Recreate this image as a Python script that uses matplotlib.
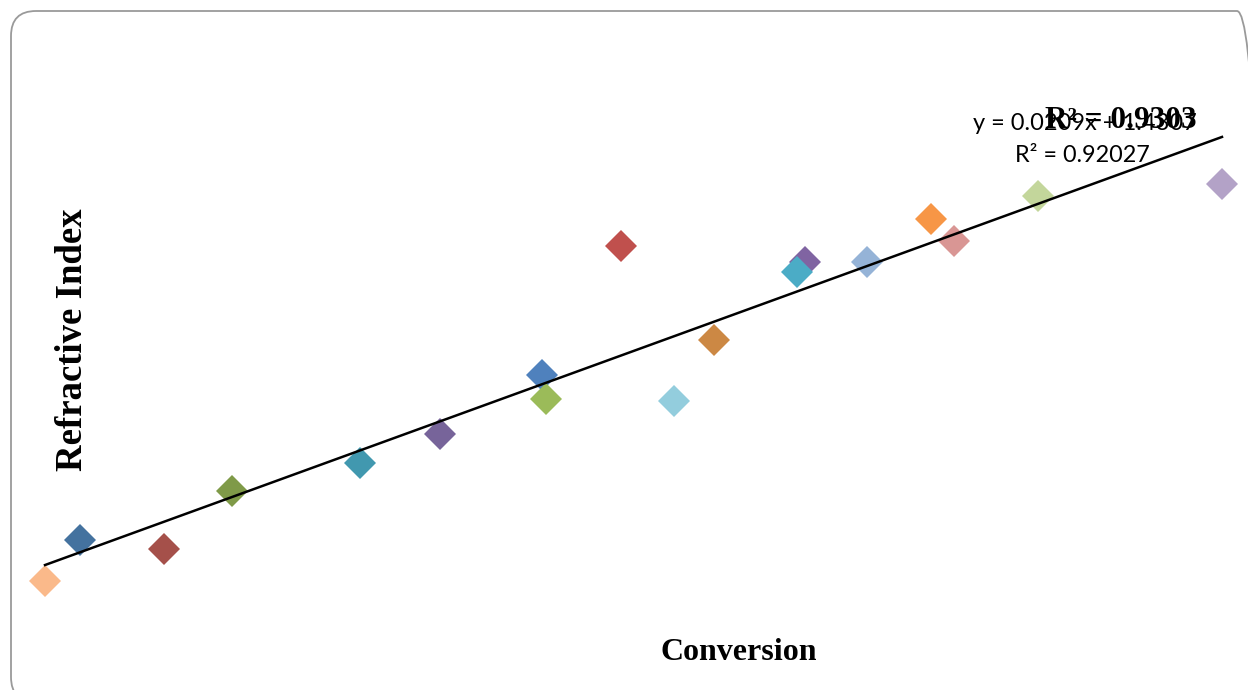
import matplotlib
matplotlib.use("Agg")
import matplotlib.pyplot as plt
from matplotlib.patches import FancyBboxPatch
from matplotlib.transforms import IdentityTransform
import numpy as np

# Conversion (fraction) and measured refractive index for each sample
conversion = [0.000, 0.030, 0.101, 0.159, 0.268, 0.336, 0.422, 0.426, 0.489,
              0.534, 0.568, 0.646, 0.639, 0.698, 0.753, 0.772, 0.844, 1.000]
refractive_index = [1.4299, 1.4319, 1.4315, 1.4343, 1.4357, 1.4371, 1.4400, 1.4388, 1.4463,
                    1.4387, 1.4417, 1.4455, 1.4450, 1.4455, 1.4476, 1.4465, 1.4487, 1.4493]
point_colors = ["#FAB98A", "#44729F", "#A5504A", "#7F9A48", "#4198AF", "#77649A",
                "#4F81BD", "#9BBB59", "#C0504D", "#93CDDD", "#CC8844", "#8064A2",
                "#4BACC6", "#95B3D7", "#F79646", "#D99694", "#C3D69B", "#B3A2C7"]

# Linear trendline coefficients
slope = 0.0209
intercept = 1.4307

W, H = 1248, 690
fig = plt.figure(figsize=(W / 100, H / 100), dpi=100)

# Rounded chart-area border (pixel units so the corners stay circular);
# it runs past the right and bottom edges of the canvas
border = FancyBboxPatch((11, -12), 1262 - 11, H - 11 + 12,
                        boxstyle="round,pad=0,rounding_size=25",
                        transform=IdentityTransform(), facecolor="none",
                        edgecolor="#9A9A9A", linewidth=1.3, zorder=-1)
fig.patches.append(border)

ax = fig.add_axes([45 / W, 1 - 640 / H, 1177 / W, 560 / H])
ax.set_facecolor("none")
ax.set_xlim(0, 1)
ax.set_ylim(1.42704, 1.45438)
for s in ax.spines.values():
    s.set_visible(False)
ax.set_xticks([])
ax.set_yticks([])

xs = np.array([0.0, 1.0])
ax.plot(xs, slope * xs + intercept, color="black", linewidth=1.8, zorder=3, clip_on=False)

for x, y, c in zip(conversion, refractive_index, point_colors):
    ax.plot([x], [y], marker="D", markersize=16.5, color=c, markeredgewidth=0,
            linestyle="none", zorder=2, clip_on=False)

serif = ["Liberation Serif", "DejaVu Serif"]
fig.text(72 / W, 1 - 340 / H, "Refractive Index", rotation=90, ha="center", va="center",
         family=serif, fontweight="bold", fontsize=26.5)
fig.text(739 / W, 1 - 653 / H, "Conversion", ha="center", va="center",
         family=serif, fontweight="bold", fontsize=23)

sans = ["Lato", "DejaVu Sans"]
fig.text(1085 / W, 1 - 124 / H, "y = 0.0209x + 1.4307", ha="center", va="center",
         family=sans, fontsize=17)
fig.text(1082 / W, 1 - 155 / H, "R² = 0.92027", ha="center", va="center",
         family=sans, fontsize=16.8)
fig.text(1121 / W, 1 - 121 / H, "R² = 0.9303", ha="center", va="center",
         family=serif, fontweight="bold", fontsize=22.5)

fig.savefig("out.png", dpi=100)
